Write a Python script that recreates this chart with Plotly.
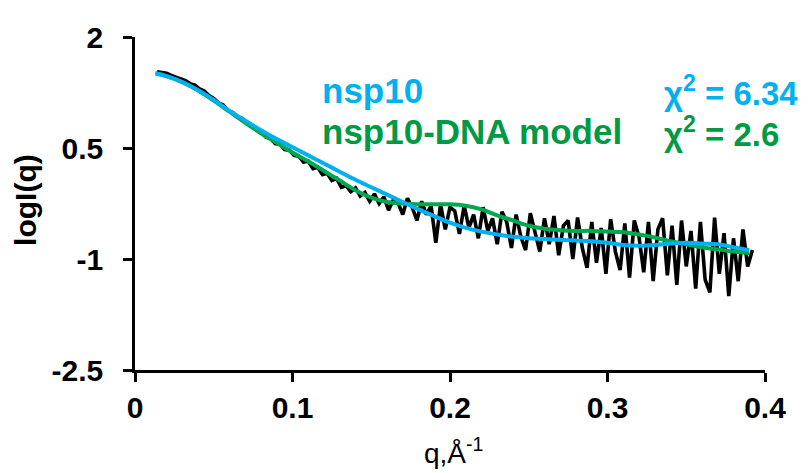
import plotly.graph_objects as go

# ---- experimental SAXS data (black) ----
q_data = [0.014, 0.017, 0.020, 0.023, 0.026, 0.029, 0.032, 0.035, 0.038, 0.041,
          0.044, 0.047, 0.050, 0.053, 0.056, 0.059, 0.062, 0.065, 0.068, 0.071,
          0.074, 0.077, 0.080, 0.083, 0.086, 0.089, 0.092, 0.095, 0.098, 0.101,
          0.104, 0.107, 0.110, 0.113, 0.116, 0.119, 0.122, 0.125, 0.128, 0.131,
          0.134, 0.137, 0.140, 0.143, 0.146, 0.149, 0.152, 0.155, 0.158, 0.161,
          0.164, 0.167, 0.170, 0.173, 0.176, 0.179, 0.182, 0.185, 0.188, 0.191,
          0.194, 0.197, 0.200, 0.203, 0.206, 0.209, 0.212, 0.215, 0.218, 0.221,
          0.224, 0.227, 0.230, 0.233, 0.236, 0.239, 0.242, 0.245, 0.248, 0.251,
          0.254, 0.257, 0.260, 0.263, 0.266, 0.269, 0.272, 0.275, 0.278, 0.281,
          0.284, 0.287, 0.290, 0.293, 0.296, 0.299, 0.302, 0.305, 0.308, 0.311,
          0.314, 0.317, 0.320, 0.323, 0.326, 0.329, 0.332, 0.335, 0.338, 0.341,
          0.344, 0.347, 0.350, 0.353, 0.356, 0.359, 0.362, 0.365, 0.368, 0.371,
          0.374, 0.377, 0.380, 0.383, 0.386, 0.389, 0.392]
logI_data = [1.53, 1.52, 1.51, 1.48, 1.46, 1.43, 1.41, 1.37, 1.35, 1.30,
             1.27, 1.21, 1.17, 1.11, 1.08, 1.01, 0.98, 0.92, 0.90, 0.84,
             0.81, 0.74, 0.72, 0.65, 0.63, 0.56, 0.55, 0.48, 0.47, 0.40,
             0.39, 0.31, 0.32, 0.22, 0.24, 0.14, 0.16, 0.06, 0.09, -0.03,
             -0.01, -0.09, -0.04, -0.15, -0.10, -0.22, -0.12, -0.25, -0.16, -0.34,
             -0.20, -0.24, -0.40, -0.18, -0.30, -0.48, -0.22, -0.40, -0.28, -0.78,
             -0.26, -0.60, -0.30, -0.35, -0.66, -0.28, -0.58, -0.40, -0.72, -0.30,
             -0.62, -0.45, -0.80, -0.36, -0.50, -0.85, -0.40, -0.70, -0.88, -0.38,
             -0.62, -0.90, -0.45, -0.80, -0.42, -0.95, -0.55, -0.48, -1.00, -0.44,
             -0.85, -1.12, -0.50, -1.05, -0.58, -1.20, -0.46, -0.90, -1.15, -0.52,
             -1.25, -0.48, -0.70, -1.18, -0.50, -1.30, -0.60, -0.45, -1.22, -0.55,
             -1.35, -0.48, -1.10, -0.62, -1.40, -0.50, -1.28, -1.45, -0.44, -1.20,
             -0.65, -1.50, -0.72, -1.30, -0.60, -1.10, -0.88]

# ---- model fits ----
q_fit = [0.013, 0.02, 0.03, 0.04, 0.05, 0.06, 0.07, 0.08, 0.09, 0.10,
         0.11, 0.12, 0.13, 0.14, 0.15, 0.16, 0.17, 0.18, 0.19, 0.20,
         0.21, 0.22, 0.23, 0.24, 0.25, 0.26, 0.27, 0.28, 0.29, 0.30,
         0.31, 0.32, 0.33, 0.34, 0.35, 0.36, 0.37, 0.38, 0.39]
nsp10_fit = [1.51, 1.47, 1.39, 1.28, 1.15, 1.00, 0.87, 0.74, 0.62, 0.51,
             0.40, 0.29, 0.18, 0.07, -0.03, -0.13, -0.23, -0.33, -0.42, -0.51,
             -0.58, -0.63, -0.67, -0.70, -0.72, -0.73, -0.74, -0.75, -0.76, -0.78,
             -0.81, -0.82, -0.81, -0.79, -0.78, -0.79, -0.80, -0.84, -0.88]
dna_fit = [1.51, 1.47, 1.39, 1.28, 1.14, 0.99, 0.84, 0.70, 0.57, 0.44,
           0.32, 0.19, 0.06, -0.07, -0.17, -0.23, -0.25, -0.26, -0.26, -0.26,
           -0.28, -0.33, -0.41, -0.48, -0.55, -0.59, -0.61, -0.62, -0.62, -0.63,
           -0.64, -0.67, -0.71, -0.76, -0.80, -0.84, -0.87, -0.90, -0.92]

x_ticks = [0, 0.1, 0.2, 0.3, 0.4]
x_tick_text = ["0", "0.1", "0.2", "0.3", "0.4"]
y_ticks = [2, 0.5, -1, -2.5]
y_tick_text = ["2", "0.5", "-1", "-2.5"]

BLUE = "#00B0F0"
GREEN = "#00A84F"
GREEN_TXT = "#009A44"
FONT = "Liberation Sans, Arial, sans-serif"

fig = go.Figure()
fig.add_trace(go.Scatter(x=q_data, y=logI_data, mode="lines",
                         line=dict(color="black", width=3.6), showlegend=False))
fig.add_trace(go.Scatter(x=q_fit, y=dna_fit, mode="lines", line_shape="spline",
                         line=dict(color=GREEN, width=4), showlegend=False))
fig.add_trace(go.Scatter(x=q_fit, y=nsp10_fit, mode="lines", line_shape="spline",
                         line=dict(color=BLUE, width=4), showlegend=False))

axis_common = dict(showline=True, linecolor="black", linewidth=2.5,
                   ticks="outside", ticklen=9, tickwidth=2.5, tickcolor="black",
                   showgrid=False, zeroline=False,
                   tickfont=dict(family=FONT, size=30, color="black", weight="bold"))

fig.update_xaxes(range=[0, 0.4], tickvals=x_ticks, ticktext=x_tick_text, **axis_common)
fig.update_yaxes(range=[-2.5, 2], tickvals=y_ticks, ticktext=y_tick_text,
                 ticklabelstandoff=14, **axis_common)

ann = []
ann.append(dict(text="logI(q)", xref="paper", yref="paper", x=-0.175, y=0.51,
                textangle=-90, showarrow=False, xanchor="center", yanchor="middle",
                font=dict(family=FONT, size=30, color="black", weight="bold")))
ann.append(dict(text="q,Å<sup>-1</sup>", xref="paper", yref="paper", x=0.505, y=-0.243,
                showarrow=False, xanchor="center", yanchor="middle",
                font=dict(family=FONT, size=28, color="black")))
ann.append(dict(text="nsp10", xref="paper", yref="paper", x=0.294, y=0.839,
                showarrow=False, xanchor="left", yanchor="middle",
                font=dict(family=FONT, size=35, color=BLUE, weight="bold")))
ann.append(dict(text="nsp10-DNA model", xref="paper", yref="paper", x=0.294, y=0.715,
                showarrow=False, xanchor="left", yanchor="middle",
                font=dict(family=FONT, size=35, color=GREEN_TXT, weight="bold")))
ann.append(dict(text="χ<sup>2</sup> = 6.34", xref="paper", yref="paper", x=0.836, y=0.839,
                showarrow=False, xanchor="left", yanchor="middle",
                font=dict(family=FONT, size=33, color=BLUE, weight="bold")))
ann.append(dict(text="χ<sup>2</sup> = 2.6", xref="paper", yref="paper", x=0.836, y=0.715,
                showarrow=False, xanchor="left", yanchor="middle",
                font=dict(family=FONT, size=33, color=GREEN_TXT, weight="bold")))

# page body has an 8px margin, so the figure is 8px smaller and margins shifted
fig.update_layout(width=803, height=465, margin=dict(l=127, r=46, t=20, b=103),
                  plot_bgcolor="white", paper_bgcolor="white", annotations=ann)

fig.write_html("out.html")
